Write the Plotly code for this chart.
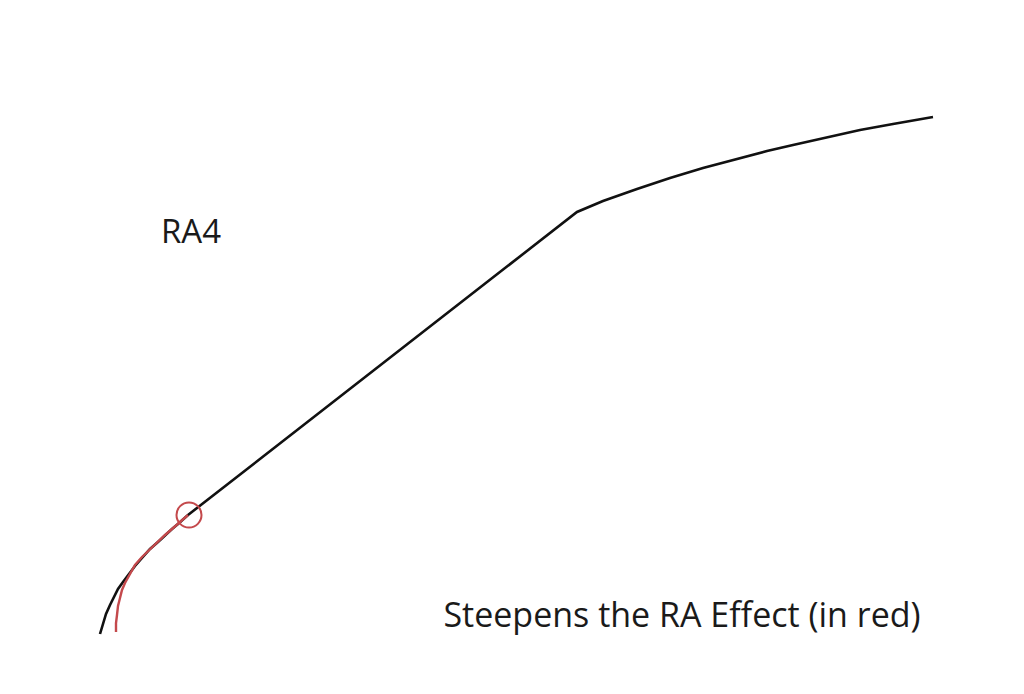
import plotly.graph_objects as go

# schematic curve, coordinates in a 1024 x 694 canvas (y measured upward)
black_x = [100, 103, 106, 110, 114, 118, 123, 129, 135, 142, 150, 158, 165, 172, 178, 188,
           577, 603, 637, 670, 703, 737, 767, 793, 827, 860, 893, 933]
black_y = [60, 71, 80, 89, 97, 105, 112, 120, 128, 136, 145, 152, 159, 165, 170, 179,
           482, 493, 505, 516, 526, 535, 543, 549, 557, 564, 570, 577]

# red "steepened" start, joins the black line at the circle
red_x = [116, 116, 117, 118, 120, 122, 125, 130, 135, 142, 150, 158, 165, 172, 178, 188]
red_y = [62, 71, 79, 88, 96, 104, 111, 120, 129, 137, 145, 152, 159, 165, 170, 179]

circle_x = [189]
circle_y = [179]

labels = ["RA4", "Steepens the RA Effect (in red)"]
label_x = [191, 682]
label_y = [459, 76]

fig = go.Figure()
fig.add_trace(go.Scatter(x=black_x, y=black_y, mode="lines",
                         line=dict(color="#111111", width=2.6),
                         hoverinfo="skip"))
fig.add_trace(go.Scatter(x=red_x, y=red_y, mode="lines",
                         line=dict(color="#c4494c", width=2.4),
                         hoverinfo="skip"))
fig.add_trace(go.Scatter(x=circle_x, y=circle_y, mode="markers",
                         marker=dict(symbol="circle-open", size=25, color="#c4494c",
                                     line=dict(width=2, color="#c4494c")),
                         hoverinfo="skip"))
fig.add_trace(go.Scatter(x=label_x, y=label_y, mode="text", text=labels,
                         textposition="middle center",
                         textfont=dict(family="Open Sans", size=[33, 34], color="#1a1a1a"),
                         hoverinfo="skip"))

# page body has an 8px margin, so the figure is 16px smaller and ranges shifted
fig.update_layout(width=1008, height=678, margin=dict(l=0, r=0, t=0, b=0),
                  plot_bgcolor="white", paper_bgcolor="white", showlegend=False)
fig.update_xaxes(range=[8, 1016], visible=False, fixedrange=True)
fig.update_yaxes(range=[8, 686], visible=False, fixedrange=True)

fig.write_html("out.html")
